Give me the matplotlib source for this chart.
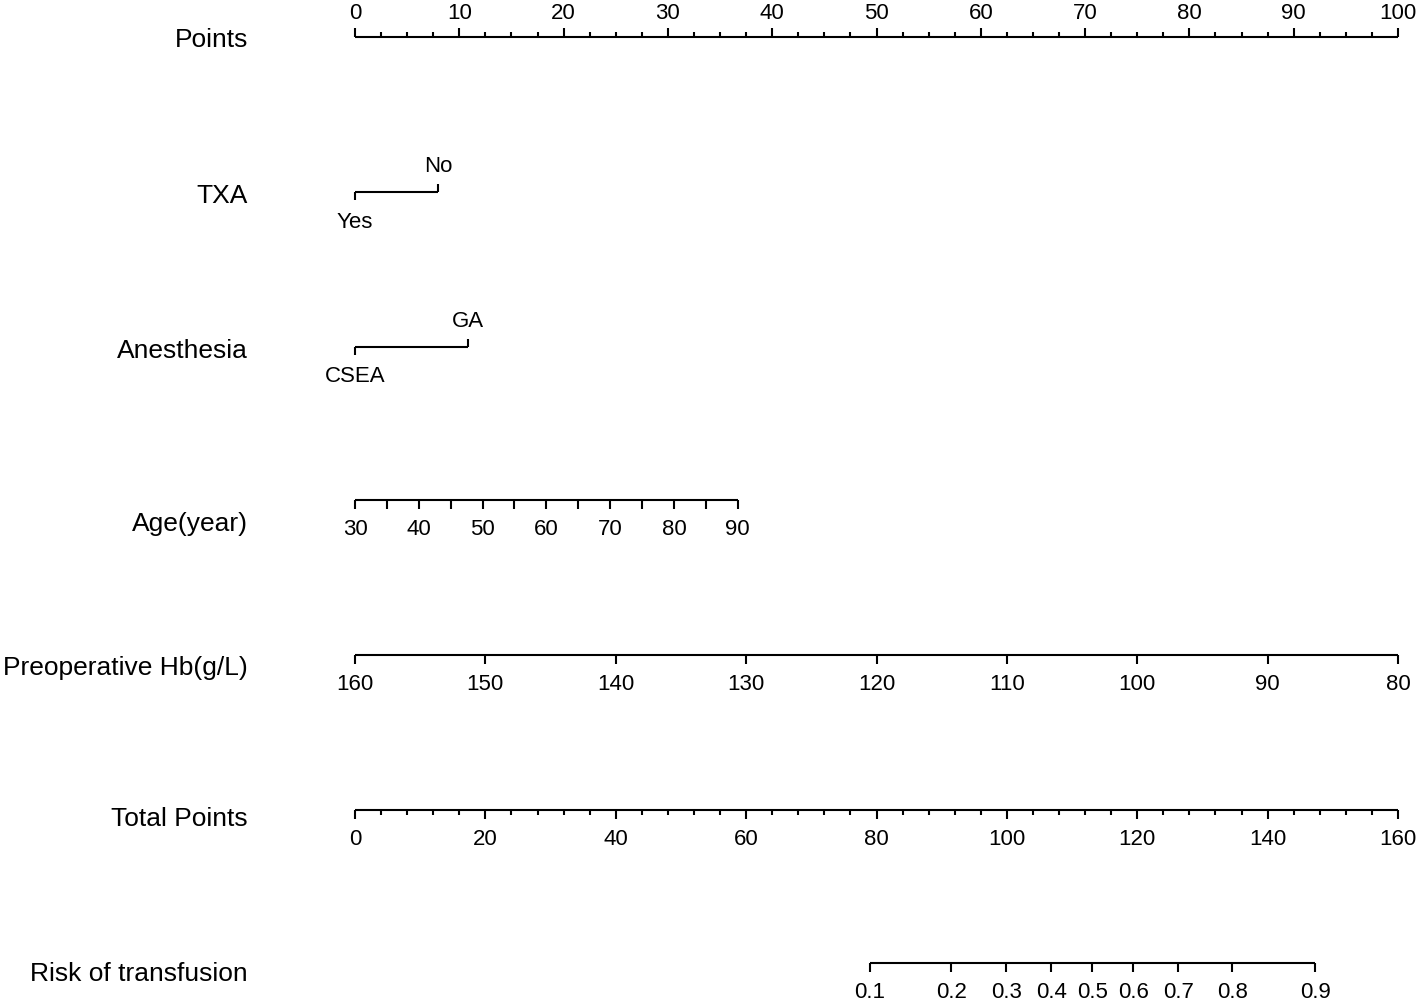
import numpy as np
import matplotlib
matplotlib.use("Agg")
import matplotlib.pyplot as plt

plt.rcParams['font.family'] = ['Liberation Sans', 'DejaVu Sans']

# ---------------- data ----------------
points_major = [0, 10, 20, 30, 40, 50, 60, 70, 80, 90, 100]
points_minor_step = 2.5

txa_levels = ['Yes', 'No']
txa_points = [0, 8.0]

anes_levels = ['CSEA', 'GA']
anes_points = [0, 10.8]

age_labels = [30, 40, 50, 60, 70, 80, 90]
age_minor = [35, 45, 55, 65, 75, 85]
age_range = (30, 90)
age_points_range = (0, 36.7)

hb_labels = [160, 150, 140, 130, 120, 110, 100, 90, 80]
hb_range = (160, 80)
hb_points_range = (0, 100)

total_labels = [0, 20, 40, 60, 80, 100, 120, 140, 160]
total_minor_step = 4
total_max = 160

risk_labels = ['0.1', '0.2', '0.3', '0.4', '0.5', '0.6', '0.7', '0.8', '0.9']
risk_total_points = [79.0, 91.5, 99.9, 106.8, 113.1, 119.4, 126.3, 134.6, 147.3]

row_names = ['Points', 'TXA', 'Anesthesia', 'Age(year)', 'Preoperative Hb(g/L)',
             'Total Points', 'Risk of transfusion']

# ---------------- layout ----------------
W, H = 1418, 1002
fig = plt.figure(figsize=(W / 100, H / 100), dpi=100)
ax = fig.add_axes([355 / W, 0, (1398 - 355) / W, 1])
ax.set_xlim(0, 100)
ax.set_ylim(H, 0)
ax.axis('off')

LW = 1.5
TICK = 9
MINOR = 5
FS_TICK = 16
FS_LAB = 19
col = 'black'


def hline(x0, x1, y):
    ax.plot([x0, x1], [y, y], color=col, lw=LW, solid_capstyle='butt', clip_on=False)


def ticks(xs, y, length):
    for x in xs:
        ax.plot([x, x], [y, y + length], color=col, lw=LW, solid_capstyle='butt', clip_on=False)


def labels(xs, texts, y_base):
    for x, t in zip(xs, texts):
        ax.text(x, y_base, str(t), ha='center', va='baseline', fontsize=FS_TICK, clip_on=False)


# Points row (ticks up, labels above)
y = 37
hline(0, 100, y)
ticks(points_major, y, -TICK)
minor = [v for v in np.arange(0, 100 + 1e-9, points_minor_step) if v % 10 != 0]
ticks(minor, y, -MINOR)
labels(points_major, points_major, 19)

# TXA
y = 192
hline(txa_points[0], txa_points[1], y)
ticks([txa_points[0]], y, 8)
ticks([txa_points[1]], y, -8)
ax.text(txa_points[0], 228, txa_levels[0], ha='center', va='baseline', fontsize=FS_TICK)
ax.text(txa_points[1], 172, txa_levels[1], ha='center', va='baseline', fontsize=FS_TICK)

# Anesthesia
y = 346.5
hline(anes_points[0], anes_points[1], y)
ticks([anes_points[0]], y, 8)
ticks([anes_points[1]], y, -8)
ax.text(anes_points[0], 382, anes_levels[0], ha='center', va='baseline', fontsize=FS_TICK)
ax.text(anes_points[1], 327, anes_levels[1], ha='center', va='baseline', fontsize=FS_TICK)


def age_to_pts(a):
    return age_points_range[0] + (a - age_range[0]) * (age_points_range[1] - age_points_range[0]) / (age_range[1] - age_range[0])


y = 500
hline(age_to_pts(age_range[0]), age_to_pts(age_range[1]), y)
ticks([age_to_pts(a) for a in age_labels + age_minor], y, TICK)
labels([age_to_pts(a) for a in age_labels], age_labels, 535)


def hb_to_pts(h):
    return hb_points_range[0] + (h - hb_range[0]) * (hb_points_range[1] - hb_points_range[0]) / (hb_range[1] - hb_range[0])


y = 655
hline(hb_to_pts(hb_range[0]), hb_to_pts(hb_range[1]), y)
ticks([hb_to_pts(h) for h in hb_labels], y, TICK)
labels([hb_to_pts(h) for h in hb_labels], hb_labels, 690)


def tp_to_x(t):
    return t * 100.0 / total_max


y = 810
hline(0, 100, y)
ticks([tp_to_x(t) for t in total_labels], y, TICK)
tminor = [t for t in range(0, total_max + 1, total_minor_step) if t % 20 != 0]
ticks([tp_to_x(t) for t in tminor], y, MINOR)
labels([tp_to_x(t) for t in total_labels], total_labels, 845)

y = 963
rx = [tp_to_x(t) for t in risk_total_points]
hline(rx[0], rx[-1], y)
ticks(rx, y, TICK)
labels(rx, risk_labels, 998)

# Row labels (right aligned)
label_baselines = [47, 203, 358, 531, 675, 826, 981]
for name, yb in zip(row_names, label_baselines):
    fig.text(248 / W, 1 - yb / H, name, ha='right', va='baseline', fontsize=FS_LAB)

fig.savefig('out.png', dpi=100)
